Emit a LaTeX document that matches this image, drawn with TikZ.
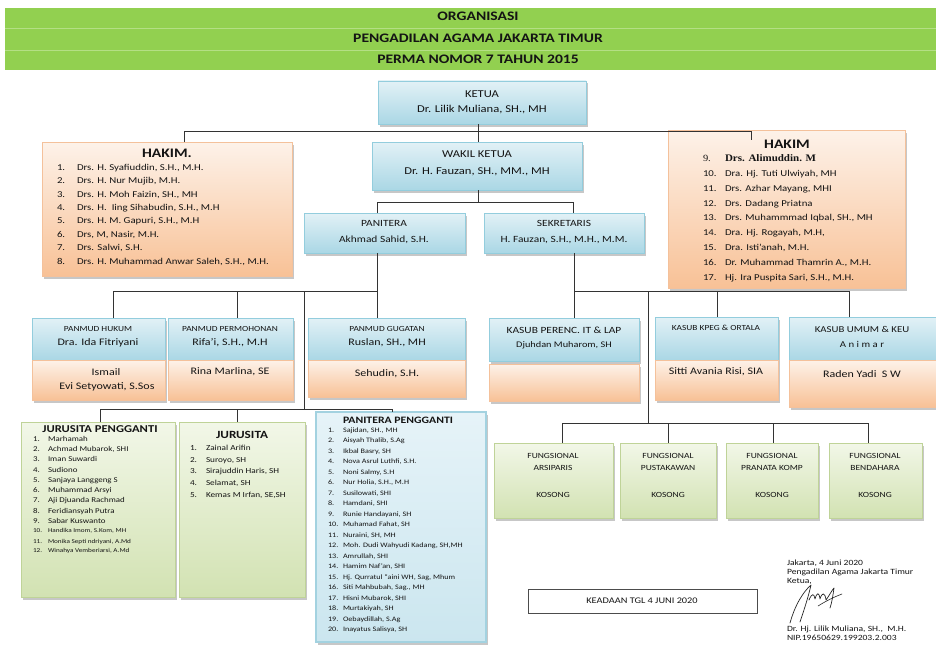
\documentclass[tikz,border=0pt]{standalone}
\usepackage{fontspec}
\setmainfont{Carlito}[FakeStretch=1.2]
\newfontfamily\altserif{Liberation Serif}[FakeStretch=1.1]
\usetikzlibrary{shadows}
\definecolor{hdrgreen}{HTML}{92D050}
\definecolor{hdrline}{HTML}{B4DF85}
\definecolor{blueTop}{HTML}{E2F1F6}
\definecolor{blueBot}{HTML}{AAD7E5}
\definecolor{blueBord}{HTML}{93CDDD}
\definecolor{orTop}{HTML}{FDF2E9}
\definecolor{orBot}{HTML}{F8C196}
\definecolor{orBord}{HTML}{F4C19B}
\definecolor{grTop}{HTML}{F2F7E8}
\definecolor{grBot}{HTML}{D2E2B2}
\definecolor{grBord}{HTML}{BFD398}
\definecolor{ppTop}{HTML}{E6F3F8}
\definecolor{ppBot}{HTML}{CBE6EF}
\definecolor{ppBord}{HTML}{A3D2E0}
\definecolor{ink}{HTML}{141414}
\definecolor{lineC}{HTML}{333333}
\newcommand\mybox[5]{\node[#1, minimum width=#4pt, minimum height=#5pt] (#2) at (#3) {};}
\begin{document}
\begin{tikzpicture}[x=1pt,y=-1pt,
  base/.style={rectangle, inner sep=0pt, outer sep=0pt, anchor=north west, line width=0.6pt,
     drop shadow={shadow xshift=2pt, shadow yshift=-2.5pt, fill=black, opacity=0.22}},
  bluebox/.style={base, draw=blueBord, top color=blueTop, bottom color=blueBot},
  orbox/.style={base, draw=orBord, top color=orTop, bottom color=orBot},
  grbox/.style={base, draw=grBord, top color=grTop, bottom color=grBot},
  ppbox/.style={base, draw=ppBord, line width=1.6pt, top color=ppTop, bottom color=ppBot},
  fs/.style={inner sep=0pt, outer sep=0pt, text=ink, anchor=mid, font=\fontsize{#1}{#1}\selectfont},
  fb/.style={fs=#1, font=\fontsize{#1}{#1}\selectfont\bfseries},
  conn/.style={draw=lineC, line width=0.8pt},
]
\useasboundingbox (0,0) rectangle (936,650);
\fill[white] (0,0) rectangle (936,650);

% header
\fill[hdrgreen] (5,8) rectangle (936,70);
\draw[hdrline, line width=0.8pt] (5,28.5) -- (936,28.5);
\draw[hdrline, line width=0.8pt] (5,50) -- (936,50);
\node[fb=13] (h1) at (478,18) {ORGANISASI};
\node[fb=13] (h2) at (478,40) {PENGADILAN AGAMA JAKARTA TIMUR};
\node[fb=13] (h3) at (478,61) {PERMA NOMOR 7 TAHUN 2015};

% top boxes
\mybox{bluebox}{ketua}{378,81}{208}{43}
\node[fs=10.5] (ketuaA) at (482,95) {KETUA};
\node[fs=10.5] (ketuaB) at (482,110) {Dr. Lilik Muliana, SH., MH};

\mybox{bluebox}{wakil}{372,142}{210}{48}
\node[fs=10.5] (wakilA) at (477,155) {WAKIL KETUA};
\node[fs=10.5] (wakilB) at (477,172) {Dr. H. Fauzan, SH., MM., MH};

\mybox{bluebox}{panitera}{304,213}{161}{40}
\node[fs=9.5] (panA) at (384,224) {PANITERA};
\node[fs=9.5] (panB) at (384,240) {Akhmad Sahid, S.H.};

\mybox{bluebox}{sekretaris}{484,213}{160}{40}
\node[fs=9.5] (sekA) at (564,224) {SEKRETARIS};
\node[fs=9.5] (sekB) at (564,240) {H. Fauzan, S.H., M.H., M.M.};

% hakim left
\mybox{orbox}{hakimL}{42,142}{250}{134}
\node[fb=13] (hlT) at (167,155) {HAKIM.};
\foreach \t [count=\i] in {{Drs. H. Syafiuddin, S.H., M.H.},{Drs. H. Nur Mujib, M.H.},{Drs. H. Moh Faizin, SH., MH},{Drs. H.\ \ Iing Sihabudin, S.H., M.H},{Drs. H. M. Gapuri, S.H., M.H},{Drs, M, Nasir, M.H.},{Drs. Salwi, S.H.},{Drs. H. Muhammad Anwar Saleh, S.H., M.H.}}{
  \pgfmathsetmacro\yy{168+13.4*(\i-1)}
  \node[fs=9, anchor=mid west] (hln\i) at (57,\yy) {\i.};
  \node[fs=9, anchor=mid west] (hlt\i) at (77,\yy) {\t};
}

% hakim right
\mybox{orbox}{hakimR}{668,130}{237}{158}
\node[fb=13] (hrT) at (787,146) {HAKIM};
\node[fs=9.5, anchor=mid west] (hrn9) at (703,159) {\altserif 9.};
\node[fs=10, anchor=mid west] (hrt9) at (725,159) {\altserif\bfseries Drs. Alimuddin. M};
\foreach \t [count=\i] in {{Dra. Hj. Tuti Ulwiyah, MH},{Drs. Azhar Mayang, MHI},{Drs. Dadang Priatna},{Drs. Muhammmad Iqbal, SH., MH},{Dra. Hj. Rogayah, M.H,},{Dra. Isti’anah, M.H.},{Dr. Muhammad Thamrin A., M.H.},{Hj. Ira Puspita Sari, S.H., M.H.}}{
  \pgfmathsetmacro\yy{159+14.9*\i}
  \pgfmathtruncatemacro\nn{\i+9}
  \node[fs=9, anchor=mid west] (hrn\nn) at (703,\yy) {\nn.};
  \node[fs=9, anchor=mid west] (hrt\nn) at (725,\yy) {\t};
}

% panmud boxes
\mybox{bluebox}{pHukA}{32,318}{133}{42}
\mybox{orbox}{pHukB}{32,360}{133}{40}
\node[fs=7.8] (phA) at (98,329) {PANMUD HUKUM};
\node[fs=10] (phB) at (98,343) {Dra. Ida Fitriyani};
\node[fs=10] (phC) at (106,373) {Ismail};
\node[fs=10] (phD) at (107,387) {Evi Setyowati, S.Sos};

\mybox{bluebox}{pPerA}{168,318}{125}{42}
\mybox{orbox}{pPerB}{168,360}{125}{40}
\node[fs=7.8] (ppA) at (230,329) {PANMUD PERMOHONAN};
\node[fs=10] (ppB) at (230,343) {Rifa’i, S.H., M.H};
\node[fs=10] (ppC) at (230,372) {Rina Marlina, SE};

\mybox{bluebox}{pGugA}{308,318}{157}{42}
\mybox{orbox}{pGugB}{308,360}{157}{37}
\node[fs=7.8] (pgA) at (387,329) {PANMUD GUGATAN};
\node[fs=10] (pgB) at (387,343) {Ruslan, SH., MH};
\node[fs=10] (pgC) at (387,374) {Sehudin, S.H.};

% kasub boxes
\mybox{bluebox}{kPerA}{489,318}{150}{43}
\mybox{orbox}{kPerB}{489,364}{150}{37}
\node[fs=9.5] (kpA) at (564,331) {KASUB PERENC. IT \& LAP};
\node[fs=8.6] (kpB) at (564,345) {Djuhdan Muharom, SH};

\mybox{bluebox}{kKpA}{655,317}{123}{43}
\mybox{orbox}{kKpB}{655,360}{123}{40}
\node[fs=7.8] (kkA) at (716,328) {KASUB KPEG \& ORTALA};
\node[fs=10] (kkB) at (716,372) {Sitti Avania Risi, SIA};

\mybox{bluebox}{kUmA}{789,317}{150}{43}
\mybox{orbox}{kUmB}{789,360}{150}{47}
\node[fs=9] (kuA) at (862,330) {KASUB UMUM \& KEU};
\node[fs=9] (kuB) at (862,345) {A\ n\ i\ m\ a\ r};
\node[fs=10] (kuC) at (862,375) {Raden Yadi\ \ S W};

% jurusita pengganti
\mybox{grbox}{jpBox}{21,422}{154}{175}
\node[fb=10.5] (jpT) at (100,430) {JURUSITA PENGGANTI};
\foreach \t [count=\i] in {{Marhamah},{Achmad Mubarok, SHI},{Iman Suwardi},{Sudiono},{Sanjaya Langgeng S},{Muhammad Arsyi},{Aji Djuanda Rachmad},{Feridiansyah Putra},{Sabar Kuswanto}}{
  \pgfmathsetmacro\yy{439+10.25*(\i-1)}
  \node[fs=7.4, anchor=mid west] (jpn\i) at (33,\yy) {\i.};
  \node[fs=7.4, anchor=mid west] (jpt\i) at (48,\yy) {\t};
}
\node[fs=6, anchor=mid west] (jpn10) at (33,530) {10.};
\node[fs=6, anchor=mid west] (jpt10) at (48,530) {Handika Imom, S.Kom, MH};
\node[fs=6, anchor=mid west] (jpn11) at (33,541) {11.};
\node[fs=6, anchor=mid west] (jpt11) at (48,541) {Monika Septi ndriyani, A.Md};
\node[fs=6, anchor=mid west] (jpn12) at (33,550) {12.};
\node[fs=6, anchor=mid west] (jpt12) at (48,550) {Winahya Vemberiarsi, A.Md};

% jurusita
\mybox{grbox}{jBox}{179,422}{126}{175}
\node[fb=11] (jT) at (242,436) {JURUSITA};
\foreach \t [count=\i] in {{Zainal Arifin},{Suroyo, SH},{Sirajuddin Haris, SH},{Selamat, SH},{Kemas M Irfan, SE,SH}}{
  \pgfmathsetmacro\yy{448+11.75*(\i-1)}
  \node[fs=7.7, anchor=mid west] (jn\i) at (190,\yy) {\i.};
  \node[fs=7.7, anchor=mid west] (jt\i) at (206,\yy) {\t};
}

% panitera pengganti
\mybox{ppbox}{ppBox}{316,412}{170}{230}
\node[fb=9.8] (ppT) at (398,421) {PANITERA PENGGANTI};
\foreach \t [count=\i] in {{Sajidan, SH., MH},{Aisyah Thalib, S.Ag},{Ikbal Basry, SH},{Nova Asrul Luthfi, S.H.},{Noni Salmy, S.H},{Nur Holia, S.H., M.H},{Susilowati, SHI},{Hamdani, SHI},{Runie Handayani, SH},{Muhamad Fahat, SH},{Nuraini, SH, MH},{Moh. Dudi Wahyudi Kadang, SH,MH},{Amrullah, SHI},{Hamim Naf’an, SHI},{Hj. Qurratul “aini WH, Sag, Mhum},{Siti Mahbubah, Sag., MH},{Hisni Mubarok, SHI},{Murtakiyah, SH},{Oebaydillah, S.Ag},{Inayatus Salisya, SH}}{
  \pgfmathsetmacro\yy{430+10.5*(\i-1)}
  \node[fs=6.8, anchor=mid west] (ppn\i) at (328,\yy) {\i.};
  \node[fs=6.8, anchor=mid west] (ppt\i) at (343,\yy) {\t};
}

% fungsional
\mybox{grbox}{f1}{494,443}{119}{75}
\mybox{grbox}{f2}{620,443}{96}{75}
\mybox{grbox}{f3}{726,443}{92}{75}
\mybox{grbox}{f4}{829,443}{93}{75}
\foreach \nm/\cx/\lab in {f1/553/ARSIPARIS, f2/668/PUSTAKAWAN, f3/772/PRANATA KOMP, f4/875/BENDAHARA}{
  \node[fs=7.9] (\nm a) at (\cx,456) {FUNGSIONAL};
  \node[fs=7.9] (\nm b) at (\cx,468) {\lab};
  \node[fs=7.9] (\nm c) at (\cx,495) {KOSONG};
}

% keadaan
\node[rectangle, draw=black!70, line width=0.6pt, minimum width=229pt, minimum height=24pt, inner sep=0pt, anchor=north west] (keadaan) at (528,589) {};
\node[fs=8.6] (keadaanT) at (642,601) {KEADAAN TGL 4 JUNI 2020};

% signature block
\node[fs=8, anchor=mid west] (s1) at (787,563) {Jakarta, 4 Juni 2020};
\node[fs=8, anchor=mid west] (s2) at (787,572) {Pengadilan Agama Jakarta Timur};
\node[fs=8, anchor=mid west] (s3) at (787,581) {Ketua,};
\node[fs=8, anchor=mid west] (s4) at (787,629) {Dr. Hj. Lilik Muliana, SH.,\ \ M.H.};
\node[fs=8, anchor=mid west] (s5) at (787,638) {NIP.19650629.199203.2.003};
\draw[black!85, line width=0.7pt, line cap=round, line join=round]
  (790,623) .. controls (795,605) and (803,592) .. (811,585)
  .. controls (808,598) and (804,610) .. (800,622);
\draw[black!85, line width=0.7pt, line cap=round, line join=round]
  (809,600) .. controls (812,593) and (814,593) .. (815,599)
  .. controls (817,592) and (819,592) .. (820,599)
  .. controls (822,592) and (825,592) .. (826,600)
  .. controls (829,596) and (832,590) .. (834,588)
  .. controls (833,595) and (832,602) .. (830,608);
\draw[black!85, line width=0.6pt, line cap=round] (818,606) .. controls (826,601) and (834,597) .. (842,594);

% connectors
\coordinate (kj) at (478,131);
\coordinate (hlj) at (184,131);
\coordinate (hrj) at (751,131);
\coordinate (hrt) at (751,140);
\draw[conn] (ketua.south -| kj) -- (wakil.north -| kj);
\draw[conn] (hakimL.north -| hlj) -- (hlj) -- (hrj) -- (hrt);

\coordinate (wj) at (478,202);
\coordinate (pj) at (377,202);
\coordinate (sj) at (573,202);
\draw[conn] (wakil.south -| wj) -- (wj);
\draw[conn] (panitera.north -| pj) -- (pj) -- (sj) -- (sekretaris.north -| sj);

\coordinate (lb0) at (113,291);
\coordinate (lb1) at (237,291);
\coordinate (lb2) at (304,291);
\coordinate (lb3) at (377,291);
\draw[conn] (panitera.south -| lb3) -- (pGugA.north -| lb3);
\draw[conn] (pHukA.north -| lb0) -- (lb0) -- (lb3);
\draw[conn] (lb1) -- (pPerA.north -| lb1);

\coordinate (lw0) at (100,409);
\coordinate (lw1) at (237,409);
\coordinate (lw2) at (304,409);
\coordinate (lw3) at (392,409);
\draw[conn] (lb2) -- (lw2);
\draw[conn] (jpBox.north -| lw0) -- (lw0) -- (lw3) -- (ppBox.north -| lw3);
\draw[conn] (lw1) -- (jBox.north -| lw1);

\coordinate (rb0) at (574,291);
\coordinate (rb1) at (648,291);
\coordinate (rb2) at (717,291);
\coordinate (rb3) at (849,291);
\draw[conn] (sekretaris.south -| rb0) -- (kPerA.north -| rb0);
\draw[conn] (rb0) -- (rb3) -- (kUmA.north -| rb3);
\draw[conn] (rb2) -- (kKpA.north -| rb2);

\coordinate (fb0) at (562,423);
\coordinate (fj) at (648,423);
\coordinate (fb1) at (668,423);
\coordinate (fb2) at (773,423);
\coordinate (fb3) at (868,423);
\draw[conn] (rb1) -- (fj);
\draw[conn] (f1.north -| fb0) -- (fb0) -- (fb3) -- (f4.north -| fb3);
\draw[conn] (fb1) -- (f2.north -| fb1);
\draw[conn] (fb2) -- (f3.north -| fb2);
\end{tikzpicture}
\end{document}
